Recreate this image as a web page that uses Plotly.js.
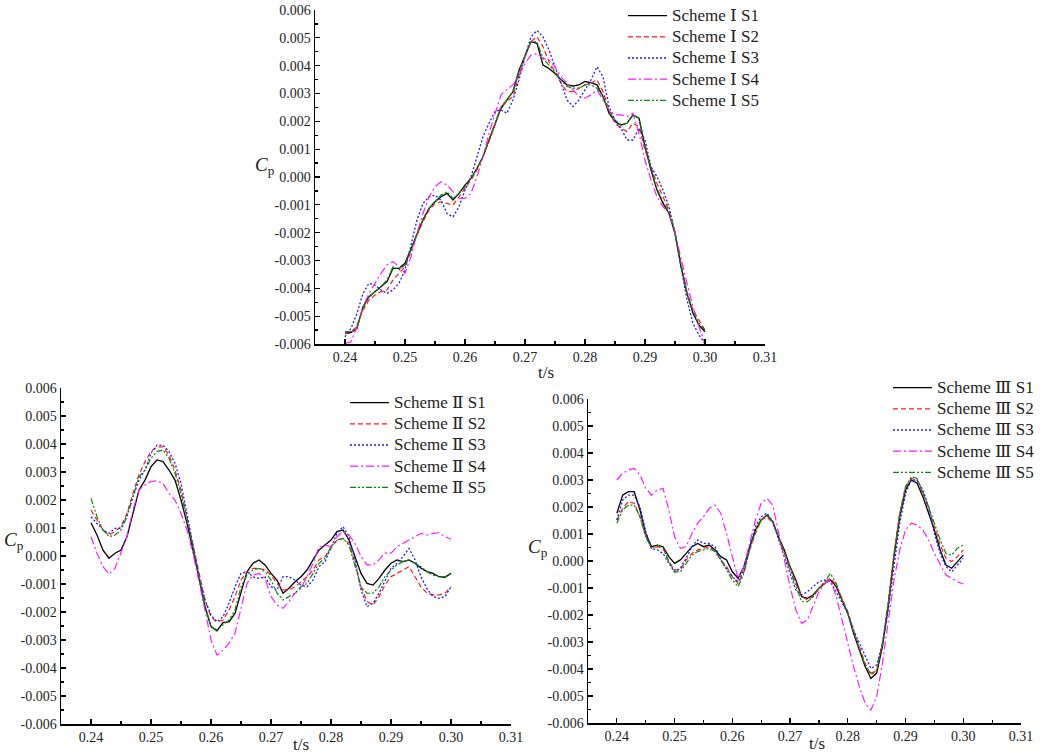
<!DOCTYPE html>
<html><head><meta charset="utf-8">
<script src="https://cdn.plot.ly/plotly-3.0.1.min.js"></script>
<style>html,body{margin:0;padding:0;background:#fff;}#chart{width:1045px;height:756px;}</style>
</head><body><div id="chart"></div>
<script>
// time axis (s)
const t = [0.240,0.241,0.242,0.243,0.244,0.245,0.246,0.247,0.248,0.249,0.250,
0.251,0.252,0.253,0.254,0.255,0.256,0.257,0.258,0.259,0.260,
0.261,0.262,0.263,0.264,0.265,0.266,0.267,0.268,0.269,0.270,
0.271,0.272,0.273,0.274,0.275,0.276,0.277,0.278,0.279,0.280,
0.281,0.282,0.283,0.284,0.285,0.286,0.287,0.288,0.289,0.290,
0.291,0.292,0.293,0.294,0.295,0.296,0.297,0.298,0.299,0.300];

// Cp values, written in units of 1e-3
const CP_UNIT = 1e-3;
const schemeI_S1 = [-5.56,-5.59,-5.44,-4.66,-4.30,-4.12,-3.94,-3.76,-3.28,-3.28,-3.10,-2.56,-2.02,-1.54,-1.13,-0.89,-0.71,-0.59,-0.83,-0.59,-0.29,-0.05,0.31,0.73,1.33,1.87,2.47,2.77,3.07,3.84,4.38,4.86,4.80,4.02,3.90,3.72,3.49,3.31,3.27,3.31,3.43,3.39,3.31,2.89,2.29,1.99,1.87,1.93,2.23,2.11,1.09,0.25,-0.47,-0.95,-1.31,-2.02,-3.22,-4.18,-4.90,-5.32,-5.56];
const schemeI_S2 = [-5.62,-5.62,-5.32,-4.78,-4.42,-4.24,-4.12,-4.06,-3.70,-3.46,-3.22,-2.68,-2.08,-1.60,-1.19,-0.95,-0.89,-0.95,-1.01,-0.71,-0.41,-0.11,0.25,0.73,1.27,1.87,2.53,2.71,2.89,3.66,4.32,4.86,5.04,4.68,4.14,3.78,3.37,3.07,3.07,3.19,3.31,3.37,3.49,3.07,2.41,1.93,1.75,1.63,1.93,1.81,0.97,0.37,-0.23,-0.71,-1.19,-2.02,-3.10,-4.18,-4.78,-5.14,-5.50];
const schemeI_S3 = [-5.74,-5.44,-4.90,-4.18,-3.82,-3.88,-4.06,-4.18,-4.06,-3.82,-3.34,-2.38,-1.54,-0.95,-0.71,-0.65,-0.83,-1.31,-1.43,-1.07,-0.47,0.01,0.73,1.45,1.93,2.35,2.41,2.29,2.77,3.49,4.32,5.04,5.26,5.04,4.56,3.96,3.37,2.77,2.53,2.77,3.13,3.49,3.96,3.60,2.53,2.05,1.75,1.33,1.33,1.75,1.33,0.37,0.01,-0.47,-1.07,-2.02,-3.22,-4.42,-5.26,-5.68,-5.98];
const schemeI_S4 = [-5.98,-5.92,-5.38,-4.66,-4.18,-3.82,-3.46,-3.16,-3.04,-3.22,-3.46,-2.86,-2.02,-1.31,-0.71,-0.35,-0.17,-0.29,-0.53,-0.77,-0.77,-0.59,0.01,0.73,1.57,2.29,2.95,3.15,3.31,3.66,4.08,4.38,4.44,4.26,4.20,3.96,3.60,3.37,3.13,2.89,2.83,2.95,3.13,2.77,2.41,2.23,2.23,2.17,2.29,1.57,0.61,-0.11,-0.71,-1.07,-1.31,-2.02,-2.98,-3.82,-4.66,-5.38,-5.98];
const schemeI_S5 = [-5.56,-5.56,-5.38,-4.72,-4.30,-4.12,-3.94,-3.70,-3.22,-3.34,-3.16,-2.62,-2.02,-1.54,-1.13,-0.89,-0.65,-0.53,-0.77,-0.59,-0.35,-0.05,0.31,0.73,1.33,1.93,2.53,2.77,3.07,3.78,4.38,4.86,4.86,4.26,4.02,3.78,3.49,3.25,3.19,3.19,3.31,3.31,3.19,2.89,2.35,2.05,1.87,1.93,2.23,2.11,1.15,0.31,-0.41,-0.89,-1.25,-1.96,-3.16,-4.12,-4.84,-5.26,-5.50];

const schemeII_S1 = [1.19,0.75,0.21,-0.08,0.10,0.21,0.69,1.52,2.36,2.71,3.19,3.43,3.37,3.07,2.71,2.00,1.17,0.21,-0.74,-1.81,-2.52,-2.67,-2.38,-2.35,-2.05,-1.33,-0.56,-0.26,-0.14,-0.32,-0.62,-0.86,-1.33,-1.15,-0.92,-0.74,-0.50,-0.14,0.21,0.39,0.57,0.87,0.93,0.57,-0.02,-0.62,-0.98,-1.04,-0.80,-0.50,-0.26,-0.14,-0.20,-0.14,-0.26,-0.44,-0.56,-0.62,-0.74,-0.76,-0.62];
const schemeII_S2 = [1.64,1.29,0.93,0.75,0.87,1.05,1.52,2.24,2.90,3.37,3.73,3.90,3.90,3.61,3.07,2.36,1.40,0.45,-0.62,-1.57,-2.17,-2.35,-2.29,-1.93,-1.45,-0.86,-0.56,-0.44,-0.44,-0.50,-0.68,-0.98,-1.21,-1.21,-1.10,-0.92,-0.74,-0.50,-0.14,-0.02,0.27,0.57,0.63,0.45,-0.26,-1.10,-1.63,-1.75,-1.45,-1.04,-0.74,-0.62,-0.50,-0.38,-0.74,-1.10,-1.33,-1.39,-1.39,-1.33,-1.10];
const schemeII_S3 = [1.40,1.17,0.93,0.81,0.99,0.99,1.46,2.12,2.71,3.07,3.67,3.96,3.96,3.73,3.31,2.60,1.52,0.45,-0.74,-1.57,-2.11,-2.35,-2.17,-1.69,-1.10,-0.62,-0.56,-0.74,-0.80,-0.74,-1.10,-1.21,-0.74,-0.74,-0.86,-1.04,-1.10,-0.86,-0.38,-0.20,0.33,0.81,1.05,0.69,-0.14,-1.21,-1.81,-1.69,-1.33,-0.86,-0.44,-0.26,-0.02,0.27,-0.14,-0.74,-1.17,-1.45,-1.51,-1.45,-1.10];
const schemeII_S4 = [0.69,0.10,-0.38,-0.64,-0.44,0.10,0.69,1.64,2.36,2.54,2.66,2.69,2.59,2.24,2.00,1.52,0.93,0.10,-0.86,-1.93,-3.00,-3.54,-3.36,-3.12,-2.76,-1.81,-0.98,-0.68,-0.62,-0.80,-1.45,-1.75,-1.87,-1.63,-1.33,-1.15,-0.74,-0.26,0.33,0.39,0.33,0.69,0.87,0.75,0.45,-0.02,-0.32,-0.32,-0.14,0.10,0.10,0.33,0.45,0.57,0.69,0.81,0.75,0.81,0.83,0.69,0.60];
const schemeII_S5 = [2.06,1.40,0.93,0.69,0.75,0.93,1.40,2.12,2.83,3.07,3.49,3.73,3.79,3.49,2.95,2.24,1.29,0.33,-0.74,-1.81,-2.52,-2.64,-2.46,-2.29,-1.93,-1.10,-0.68,-0.50,-0.44,-0.56,-0.86,-1.33,-1.57,-1.45,-1.33,-1.10,-0.98,-0.62,-0.26,-0.08,0.33,0.57,0.63,0.39,-0.38,-1.10,-1.33,-1.33,-1.10,-0.74,-0.50,-0.32,-0.20,-0.14,-0.26,-0.38,-0.56,-0.68,-0.74,-0.74,-0.62];

const schemeIII_S1 = [1.77,2.44,2.57,2.57,1.89,1.02,0.53,0.59,0.53,0.16,-0.09,0.04,0.28,0.53,0.65,0.53,0.59,0.41,0.16,0.04,-0.40,-0.64,-0.21,0.53,1.15,1.52,1.70,1.46,0.90,0.41,-0.21,-0.70,-1.32,-1.38,-1.26,-1.01,-0.83,-0.70,-0.95,-1.44,-1.94,-2.68,-3.30,-3.91,-4.35,-4.15,-3.17,-1.69,0.16,1.64,2.63,3.00,2.88,2.38,1.77,1.15,0.41,-0.15,-0.27,-0.02,0.22];
const schemeIII_S2 = [1.52,1.95,2.20,2.14,1.64,0.90,0.47,0.53,0.47,-0.02,-0.33,-0.33,0.04,0.28,0.41,0.47,0.53,0.35,0.04,-0.21,-0.58,-0.83,-0.40,0.41,1.02,1.52,1.64,1.40,0.90,0.35,-0.21,-0.83,-1.32,-1.44,-1.32,-1.01,-0.77,-0.64,-0.89,-1.38,-1.88,-2.56,-3.17,-3.79,-4.23,-4.04,-3.05,-1.57,0.28,1.77,2.75,3.06,3.00,2.51,1.95,1.27,0.59,0.10,-0.02,0.16,0.41];
const schemeIII_S3 = [1.52,2.26,2.44,2.44,2.01,1.09,0.47,0.41,0.28,-0.09,-0.40,-0.27,0.10,0.53,0.78,0.65,0.65,0.53,0.04,-0.27,-0.58,-0.77,-0.33,0.53,1.27,1.64,1.77,1.46,0.78,0.16,-0.46,-1.07,-1.26,-1.14,-0.95,-0.77,-0.70,-0.77,-1.14,-1.57,-1.94,-2.56,-3.05,-3.54,-3.98,-3.85,-3.05,-1.81,-0.21,1.40,2.51,3.00,3.00,2.63,2.01,1.02,0.28,-0.21,-0.40,-0.15,0.10];
const schemeIII_S4 = [3.00,3.25,3.37,3.43,3.19,2.69,2.44,2.63,2.69,1.89,0.90,0.47,0.53,1.02,1.40,1.64,1.95,2.07,1.77,1.02,0.16,-0.64,-0.21,0.65,1.52,2.14,2.32,2.07,1.02,0.04,-0.95,-1.81,-2.31,-2.19,-1.69,-1.14,-0.83,-0.70,-1.32,-2.19,-3.05,-3.91,-4.65,-5.27,-5.52,-5.02,-3.79,-2.19,-0.70,0.41,1.15,1.40,1.33,1.15,0.78,0.28,-0.15,-0.52,-0.64,-0.77,-0.85];
const schemeIII_S5 = [1.40,1.89,2.07,2.07,1.64,0.90,0.47,0.59,0.47,-0.02,-0.40,-0.40,-0.09,0.22,0.35,0.41,0.47,0.35,0.04,-0.33,-0.70,-0.95,-0.46,0.41,1.09,1.52,1.70,1.46,0.90,0.28,-0.33,-0.95,-1.51,-1.51,-1.32,-1.01,-0.77,-0.46,-0.83,-1.44,-1.94,-2.63,-3.25,-3.85,-4.16,-4.04,-3.05,-1.51,0.28,1.77,2.75,3.12,3.06,2.57,2.01,1.40,0.78,0.28,0.22,0.47,0.59];

const seriesNames = ['S1','S2','S3','S4','S5'];
const schemeLabels = ['Scheme Ⅰ ','Scheme Ⅱ ','Scheme Ⅲ '];

// ticks
const xTickVals = [0.24,0.25,0.26,0.27,0.28,0.29,0.30,0.31];
const xTickText = ['0.24','0.25','0.26','0.27','0.28','0.29','0.30','0.31'];
const xMinorVals = [0.245,0.255,0.265,0.275,0.285,0.295,0.305];
const yTickVals = [-0.006,-0.005,-0.004,-0.003,-0.002,-0.001,0,0.001,0.002,0.003,0.004,0.005,0.006];
const yTickText = ['-0.006','-0.005','-0.004','-0.003','-0.002','-0.001','0.000','0.001','0.002','0.003','0.004','0.005','0.006'];
const yMinorVals = [-0.0055,-0.0045,-0.0035,-0.0025,-0.0015,-0.0005,0.0005,0.0015,0.0025,0.0035,0.0045,0.0055];

const W = 1045, H = 756;
const FONT = '"Liberation Serif", "DejaVu Serif", serif';
const styles = [
  {color:'#000000', dash:'solid', width:1.3},
  {color:'#ff1a1a', dash:'5px,3px', width:1.2},
  {color:'#1a1aff', dash:'2px,2px', width:1.3},
  {color:'#ff1aff', dash:'8px,3px,2px,3px', width:1.2},
  {color:'#0a8a0a', dash:'6px,2px,2px,2px,2px,2px', width:1.2}
];

const panels = [
  {series:[schemeI_S1,schemeI_S2,schemeI_S3,schemeI_S4,schemeI_S5], xd:[315,765], yd:[10,344], leg:[623,0], cp:[265,166], ts:[546,372]},
  {series:[schemeII_S1,schemeII_S2,schemeII_S3,schemeII_S4,schemeII_S5], xd:[61,511], yd:[388,724], leg:[345,387], cp:[14,541], ts:[301,744]},
  {series:[schemeIII_S1,schemeIII_S2,schemeIII_S3,schemeIII_S4,schemeIII_S5], xd:[588,1021], yd:[399,723], leg:[888,372], cp:[538,548], ts:[817,743]}
];

const traces = [];
const layout = {
  width: W, height: H, margin:{l:0,r:0,t:0,b:0, autoexpand:false},
  paper_bgcolor:'#fff', plot_bgcolor:'rgba(0,0,0,0)',
  font:{family:FONT},
  showlegend: true, annotations: []
};

panels.forEach((p, i) => {
  const n = i === 0 ? '' : String(i + 1);
  const legName = i === 0 ? 'legend' : 'legend' + (i + 1);
  p.series.forEach((vals, k) => {
    traces.push({
      type:'scatter', mode:'lines', x:t, y:vals.map(v => v * CP_UNIT),
      name: '<span style="font-size:17px">' + schemeLabels[i] + seriesNames[k] + '</span>',
      line:{color:styles[k].color, dash:styles[k].dash, width:styles[k].width},
      xaxis:'x' + n, yaxis:'y' + n, legend: legName, hoverinfo:'skip'
    });
  });
  const common = {
    showline:true, linecolor:'#000', linewidth:1.5, showgrid:false, zeroline:false,
    ticks:'inside', ticklen:5, tickwidth:1.2, tickcolor:'#000',
    tickfont:{family:FONT, size:14, color:'#222'}, fixedrange:true
  };
  layout['xaxis' + n] = Object.assign({}, common, {
    domain:[p.xd[0]/W, p.xd[1]/W], range:[0.235, 0.31], anchor:'y' + n,
    tickmode:'array', tickvals:xTickVals, ticktext:xTickText,
    minor:{tickmode:'array', tickvals:xMinorVals, ticks:'inside', ticklen:3, tickwidth:1.2, tickcolor:'#000', showgrid:false}
  });
  layout['yaxis' + n] = Object.assign({}, common, {
    domain:[1 - p.yd[1]/H, 1 - p.yd[0]/H], range:[-0.006, 0.006], anchor:'x' + n,
    tickmode:'array', tickvals:yTickVals, ticktext:yTickText,
    minor:{tickmode:'array', tickvals:yMinorVals, ticks:'inside', ticklen:3, tickwidth:1.2, tickcolor:'#000', showgrid:false}
  });
  layout[legName] = {
    x:p.leg[0]/W, y:1 - p.leg[1]/H, xanchor:'left', yanchor:'top',
    bgcolor:'rgba(0,0,0,0)', borderwidth:0, itemwidth:39,
    font:{family:FONT, size:14, color:'#222'}, tracegroupgap:0, itemclick:false, itemdoubleclick:false
  };
  layout.annotations.push({
    xref:'paper', yref:'paper', x:p.cp[0]/W, y:1 - p.cp[1]/H, xanchor:'center', yanchor:'middle',
    text:'<i>C</i><sub>p</sub>', showarrow:false, font:{family:FONT, size:19, color:'#222'}
  });
  layout.annotations.push({
    xref:'paper', yref:'paper', x:p.ts[0]/W, y:1 - p.ts[1]/H, xanchor:'center', yanchor:'middle',
    text:'t/s', showarrow:false, font:{family:FONT, size:17, color:'#222'}
  });
});

Plotly.newPlot('chart', traces, layout, {displayModeBar:false, staticPlot:true});
</script>
</body></html>
